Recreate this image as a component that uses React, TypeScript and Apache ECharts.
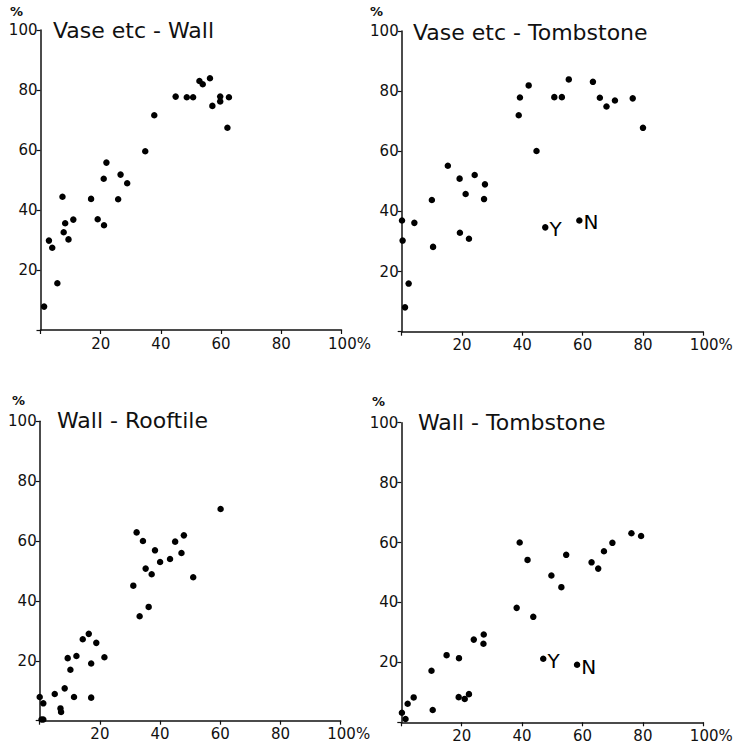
import React, { useEffect, useRef } from "react";
import * as echarts from "echarts";

const titles = ["Vase etc - Wall", "Vase etc - Tombstone", "Wall - Rooftile", "Wall - Tombstone"];
const tickValues = [20, 40, 60, 80, 100];

const vaseWall: number[][] = [
  [1.2, 7.8], [2.8, 29.8], [3.9, 27.4], [5.6, 15.6], [7.3, 44.4], [7.7, 32.6], [8.2, 35.6],
  [9.3, 30.2], [10.9, 36.8], [16.8, 43.7], [19.0, 36.9], [21.0, 50.4], [21.1, 34.9], [21.9, 55.8],
  [25.8, 43.6], [26.6, 51.8], [28.8, 48.9], [34.8, 59.6], [37.8, 71.6], [44.9, 77.8], [48.6, 77.6],
  [50.7, 77.6], [52.8, 83.0], [53.9, 81.9], [56.3, 83.9], [57.1, 74.7], [59.7, 77.8], [59.7, 76.2],
  [62.6, 77.6], [62.1, 67.4],
];

const vaseTomb: number[][] = [
  [0.1, 37.0], [0.3, 30.3], [1.1, 8.1], [2.3, 16.0], [4.2, 36.2], [10.0, 43.8], [10.4, 28.2],
  [15.3, 55.2], [19.2, 50.9], [19.3, 32.9], [21.2, 45.8], [22.3, 30.9], [24.2, 52.1], [27.6, 49.0],
  [27.3, 44.1], [38.8, 72.0], [39.2, 77.9], [42.1, 81.9], [44.7, 60.1], [50.6, 78.0], [53.1, 78.0],
  [55.4, 83.9], [63.4, 83.1], [65.7, 77.8], [67.9, 74.9], [70.7, 76.9], [76.6, 77.6], [80.0, 67.8],
];
const vaseTombMarked: (number | string)[][] = [[47.6, 34.7, "Y"], [58.9, 37.0, "N"]];

const wallRoof: number[][] = [
  [0.0, 7.9], [1.2, 5.8], [0.6, 0.4], [1.2, 0.4], [5.0, 8.9], [6.9, 4.1], [7.1, 2.9], [8.3, 10.8],
  [9.3, 20.9], [10.2, 17.0], [11.4, 7.9], [12.2, 21.6], [14.3, 27.2], [16.3, 29.0], [17.1, 19.1],
  [17.1, 7.7], [18.8, 26.0], [21.5, 21.2], [31.1, 45.1], [32.2, 62.9], [33.2, 34.9], [34.3, 60.0],
  [35.2, 50.8], [36.2, 38.0], [37.2, 48.9], [38.3, 56.9], [40.0, 53.0], [43.3, 54.0], [45.0, 59.8],
  [47.1, 56.0], [47.9, 61.9], [51.0, 47.9], [60.1, 70.7],
];

const wallTomb: number[][] = [
  [0.2, 3.2], [1.4, 1.1], [2.1, 6.2], [4.1, 8.3], [10.0, 17.2], [10.4, 4.1], [15.0, 22.4],
  [19.1, 21.4], [19.0, 8.4], [21.0, 7.8], [22.4, 9.4], [24.0, 27.6], [27.3, 29.3], [27.2, 26.2],
  [38.2, 38.2], [39.2, 60.0], [41.8, 54.2], [43.7, 35.2], [49.7, 49.0], [53.0, 45.1], [54.6, 55.9],
  [63.0, 53.4], [65.2, 51.3], [67.1, 57.1], [69.9, 59.9], [76.2, 63.1], [79.4, 62.2],
];
const wallTombMarked: (number | string)[][] = [[47.0, 21.2, "Y"], [58.2, 19.2, "N"]];

const FONT = "DejaVu Sans";

const grids = [
  { left: 40.5, top: 30, width: 301, height: 300 },
  { left: 401.7, top: 31, width: 301.6, height: 300.7 },
  { left: 39.7, top: 421.3, width: 301, height: 299.4 },
  { left: 401.3, top: 422.7, width: 302, height: 299.6 },
];
const titlePos = [
  { left: 53, top: 19 },
  { left: 413, top: 21 },
  { left: 57, top: 409 },
  { left: 418, top: 411 },
];
const pctPos = [
  [10, 5], [370, 5], [12, 394], [372, 395],
];

export default function App() {
  const ref = useRef<HTMLDivElement>(null);
  useEffect(() => {
    if (!ref.current) return;
    const chart = echarts.init(ref.current, undefined, { renderer: "svg" });
    const axisCommon = {
      type: "value" as const,
      min: 0,
      max: 100,
      interval: 20,
      splitLine: { show: false },
      axisLine: { show: true, onZero: false, lineStyle: { color: "#111", width: 1.5 } },
      axisTick: { show: true, inside: false, length: 4, lineStyle: { color: "#111", width: 1.2 } },
    };
    const xAxes = grids.map((_, i) => ({
      ...axisCommon,
      gridIndex: i,
      axisLabel: {
        color: "#111",
        fontFamily: FONT,
        fontSize: 15,
        margin: 6,
        formatter: (v: number) => (v === 0 ? "" : v === 100 ? "{sp|}100%" : String(v)),
        rich: { sp: { width: 16 } },
      },
    }));
    const yAxes = grids.map((_, i) => ({
      ...axisCommon,
      gridIndex: i,
      axisLabel: {
        color: "#111",
        fontFamily: FONT,
        fontSize: 15,
        margin: 3,
        formatter: (v: number) => (tickValues.includes(v) ? String(v) : ""),
      },
    }));
    const datasets = [vaseWall, vaseTomb, wallRoof, wallTomb];
    const series: any[] = datasets.map((d, i) => ({
      type: "scatter",
      xAxisIndex: i,
      yAxisIndex: i,
      symbol: "circle",
      symbolSize: 6.5,
      itemStyle: { color: "#000", opacity: 1 },
      data: d,
    }));
    const marked = [
      [1, vaseTombMarked],
      [3, wallTombMarked],
    ] as [number, (number | string)[][]][];
    marked.forEach(([i, pts]) => {
      series.push({
        type: "scatter",
        xAxisIndex: i,
        yAxisIndex: i,
        symbol: "circle",
        symbolSize: 6.5,
        itemStyle: { color: "#000", opacity: 1 },
        data: pts.map((p) => ({
          value: [p[0], p[1]],
          label: {
            show: true,
            position: "right",
            distance: 1,
            offset: [0, 2],
            formatter: String(p[2]),
            color: "#000",
            fontFamily: FONT,
            fontSize: 20,
          },
        })),
      });
    });
    chart.setOption({
      animation: false,
      backgroundColor: "#fff",
      title: titles.map((t, i) => ({
        text: t,
        left: titlePos[i].left,
        top: titlePos[i].top,
        padding: 0,
        textStyle: { fontFamily: FONT, fontSize: 22, fontWeight: "normal", color: "#111" },
      })),
      grid: grids,
      xAxis: xAxes,
      yAxis: yAxes,
      series,
      graphic: pctPos.map((p) => ({
        type: "text",
        x: p[0],
        y: p[1],
        style: { text: "%", fontFamily: FONT, fontSize: 13, fontWeight: "bold", fill: "#111" },
      })),
    });
    return () => chart.dispose();
  }, []);
  return (
    <div
      ref={ref}
      style={{ position: "fixed", left: 0, top: 0, width: 737, height: 754, background: "#fff" }}
    />
  );
}
